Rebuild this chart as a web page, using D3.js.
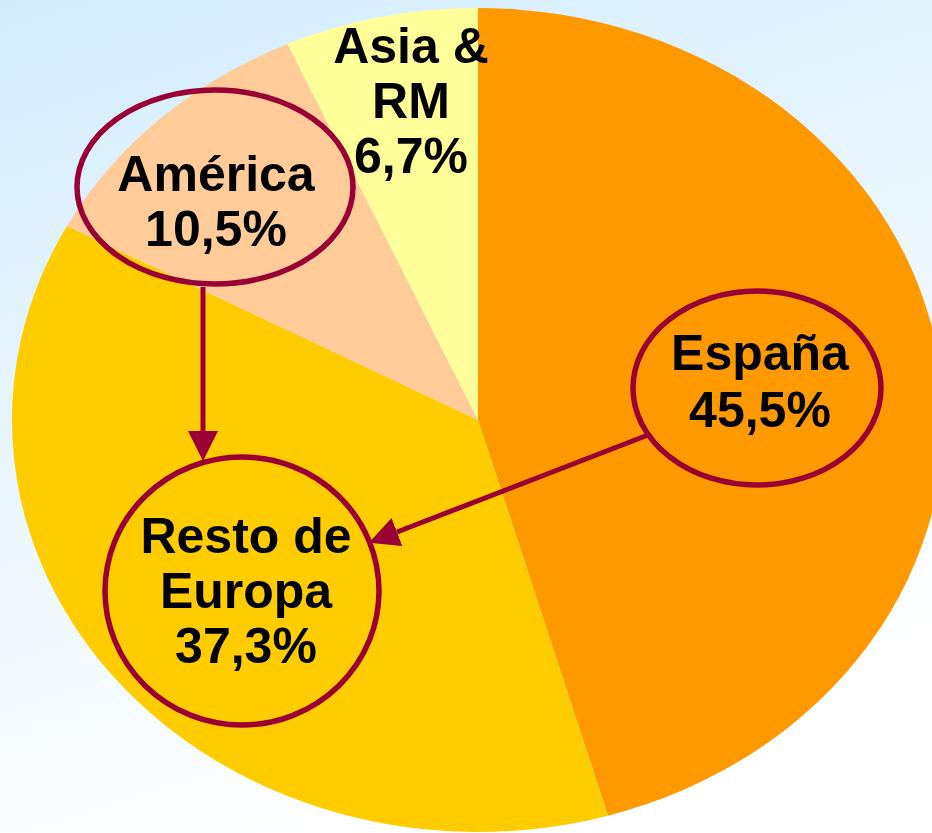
<!DOCTYPE html>
<html>
<head>
<meta charset="utf-8">
<script src="https://cdn.jsdelivr.net/npm/d3@7"></script>
<style>
  body { margin: 0; overflow: hidden; }
  svg { display: block; }
  text { font-family: "Liberation Sans", Arial, Helvetica, sans-serif; font-weight: bold; }
</style>
</head>
<body>
<div id="chart"></div>
<script>
// data (clockwise from 12 o'clock)
var categories = ["España", "Resto de Europa", "América", "Asia & RM"]
var values = [45.5, 37.3, 10.5, 6.7]
var labelLines = [["España", "45,5%"], ["Resto de", "Europa", "37,3%"], ["América", "10,5%"], ["Asia &", "RM", "6,7%"]]
var colors = ["#ff9900", "#ffcc00", "#ffcc99", "#ffff99"]

var width = 932, height = 833
var cx = 478, cy = 420
var rx = 466, ry = 412

// where the labels sit (layout, not data)
var labelPos = [[760, 370], [246, 553], [216, 191], [411, 63]]
var lineGap = [57, 55, 55, 55]
var ovals = [
  { cx: 757, cy: 388, rx: 124, ry: 97 },
  { cx: 242, cy: 591, rx: 137, ry: 134 },
  { cx: 215, cy: 187, rx: 138, ry: 97 }
]
var arrows = [
  { x1: 203, y1: 287, x2: 203, y2: 431 },
  { x1: 648, y1: 435, x2: 397, y2: 532 }
]
var dark = "#990033"

var svg = d3.select("#chart").append("svg")
  .attr("width", width)
  .attr("height", height)

var defs = svg.append("defs")
var grad = defs.append("linearGradient")
  .attr("id", "bg")
  .attr("x1", 0).attr("y1", 0)
  .attr("x2", 0.35).attr("y2", 1)
grad.append("stop").attr("offset", "0%").attr("stop-color", "#d3ecfc")
grad.append("stop").attr("offset", "100%").attr("stop-color", "#ffffff")

defs.append("marker")
  .attr("id", "head")
  .attr("viewBox", "0 0 10 10")
  .attr("refX", 0).attr("refY", 5)
  .attr("markerWidth", 6).attr("markerHeight", 6.2)
  .attr("markerUnits", "strokeWidth")
  .attr("orient", "auto")
  .append("path")
  .attr("d", "M0,0 L10,5 L0,10 Z")
  .attr("fill", dark)

svg.append("rect")
  .attr("width", width)
  .attr("height", height)
  .attr("fill", "url(#bg)")

var pie = d3.pie().sort(null).value(function(d) { return d })
var arc = d3.arc().innerRadius(0).outerRadius(rx)

var pieG = svg.append("g")
  .attr("transform", "translate(" + cx + "," + cy + ") scale(1," + (ry / rx) + ")")

pieG.selectAll("path")
  .data(pie(values))
  .enter()
  .append("path")
  .attr("d", arc)
  .attr("fill", function(d, i) { return colors[i] })

// callout ovals
svg.selectAll("ellipse.oval")
  .data(ovals)
  .enter()
  .append("ellipse")
  .attr("class", "oval")
  .attr("cx", function(d) { return d.cx })
  .attr("cy", function(d) { return d.cy })
  .attr("rx", function(d) { return d.rx })
  .attr("ry", function(d) { return d.ry })
  .attr("fill", "none")
  .attr("stroke", dark)
  .attr("stroke-width", 5.5)

svg.selectAll("line.arrow")
  .data(arrows)
  .enter()
  .append("line")
  .attr("class", "arrow")
  .attr("x1", function(d) { return d.x1 })
  .attr("y1", function(d) { return d.y1 })
  .attr("x2", function(d) { return d.x2 })
  .attr("y2", function(d) { return d.y2 })
  .attr("stroke", dark)
  .attr("stroke-width", 5)
  .attr("marker-end", "url(#head)")

// labels
labelLines.forEach(function(lines, i) {
  var t = svg.append("text")
    .attr("text-anchor", "middle")
    .attr("font-size", 50)
    .attr("fill", "#000")
  lines.forEach(function(s, j) {
    t.append("tspan")
      .attr("x", labelPos[i][0])
      .attr("y", labelPos[i][1] + j * lineGap[i])
      .text(s)
  })
})
</script>
</body>
</html>
